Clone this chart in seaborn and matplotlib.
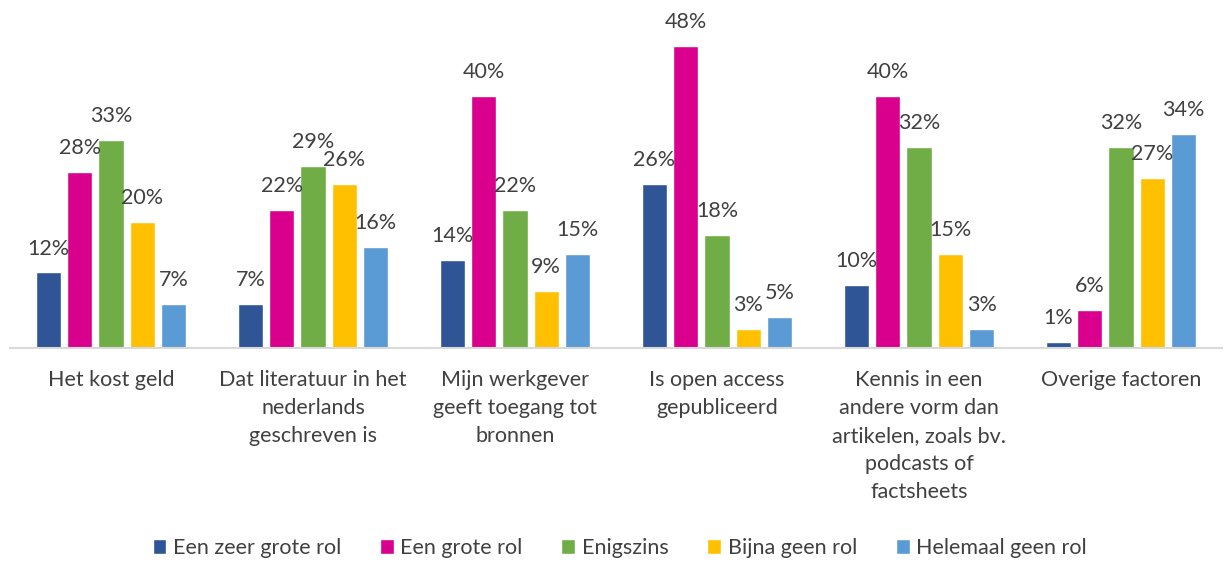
import matplotlib
matplotlib.use("Agg")
import matplotlib.pyplot as plt
import seaborn as sns
import pandas as pd

categories = [
    "Het kost geld",
    "Dat literatuur in het\nnederlands\ngeschreven is",
    "Mijn werkgever\ngeeft toegang tot\nbronnen",
    "Is open access\ngepubliceerd",
    "Kennis in een\nandere vorm dan\nartikelen, zoals bv.\npodcasts of\nfactsheets",
    "Overige factoren",
]
series = ["Een zeer grote rol", "Een grote rol", "Enigszins", "Bijna geen rol", "Helemaal geen rol"]
zeer_groot = [12, 7, 14, 26, 10, 1]
groot = [28, 22, 40, 48, 40, 6]
enigszins = [33, 29, 22, 18, 32, 32]
bijna_geen = [20, 26, 9, 3, 15, 27]
helemaal_geen = [7, 16, 15, 5, 3, 34]
colors = ["#2F5597", "#D9008D", "#70AD47", "#FFC000", "#5B9BD5"]

values = [zeer_groot, groot, enigszins, bijna_geen, helemaal_geen]
rows = []
for s, vals in zip(series, values):
    for c, v in zip(categories, vals):
        rows.append({"cat": c, "serie": s, "val": v})
df = pd.DataFrame(rows)

sns.set_theme(style="white")
plt.rcParams["font.family"] = ["Lato", "DejaVu Sans"]
text_color = "#404040"
fs = 15.5

fig = plt.figure(figsize=(12.32, 5.62), dpi=100)
ax = fig.add_axes([10 / 1232, 1 - 348 / 562, 1212 / 1232, 348 / 562])

sns.barplot(data=df, x="cat", y="val", hue="serie", order=categories, hue_order=series,
            palette=colors, saturation=1, width=0.775, gap=0.2, edgecolor="white", linewidth=1,
            ax=ax, legend=True)

for cont, s in zip(ax.containers, series):
    ax.bar_label(cont, labels=[f"{int(v)}%" for v in cont.datavalues], padding=10,
                 fontsize=fs, color=text_color)

ax.set_ylim(0, 55.3)
ax.set_xlim(-0.5, len(categories) - 0.5)
ax.set_xlabel("")
ax.set_ylabel("")
ax.set_yticks([])
ax.tick_params(axis="x", length=0, pad=16, labelsize=fs, labelcolor=text_color)
for lab in ax.get_xticklabels():
    lab.set_linespacing(1.5)
    lab.set_verticalalignment("top")
for sp in ["top", "right", "left"]:
    ax.spines[sp].set_visible(False)
ax.spines["bottom"].set_color("#D9D9D9")
ax.spines["bottom"].set_linewidth(1.5)

handles, labels = ax.get_legend_handles_labels()
ax.legend_.remove()
fig.legend(handles, labels, loc="center", bbox_to_anchor=(0.503, 1 - 548 / 562), ncol=5,
           frameon=False, fontsize=fs, handlelength=0.65, handleheight=0.65,
           handletextpad=0.3, columnspacing=1.8, labelcolor=text_color)

fig.savefig("out.png", dpi=100)
